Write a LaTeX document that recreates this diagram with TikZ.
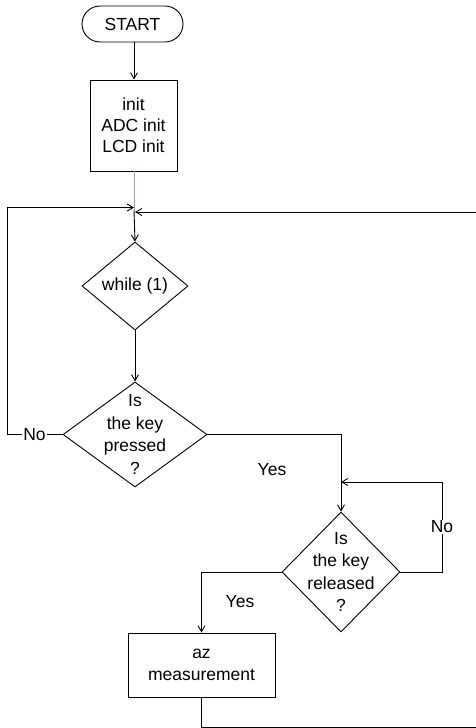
\documentclass[tikz,border=0pt]{standalone}
\usepackage{fontspec}
\setmainfont{Liberation Sans}
\usetikzlibrary{shapes.geometric,shapes.misc,arrows.meta}
\definecolor{linkgray}{RGB}{150,165,185}
\begin{document}
\begin{tikzpicture}[x=1pt,y=-1pt,
  every node/.style={font=\fontsize{17.5}{21}\selectfont},
  ln/.style={draw=black,line width=0.9pt},
  arr/.style={ln,-{Straight Barb[length=6pt,width=7pt]}},
  pill/.style={draw,line width=0.9pt,rounded rectangle,minimum width=101pt,minimum height=36pt,inner sep=0pt},
  procbox/.style={draw,line width=0.9pt,rectangle,align=center,inner sep=0pt},
  dia/.style={draw,line width=0.9pt,diamond,inner sep=0pt},
  dtext/.style={align=center,font=\fontsize{17.5}{22.5}\selectfont},
  lbl/.style={fill=white,inner sep=1pt}]
\useasboundingbox (0,0) rectangle (476,728);
\fill[white] (0,0) rectangle (476,728);
\node[pill] (start) at (132.5,24) {START};
\node[procbox,minimum width=87pt,minimum height=91pt] (init) at (133.5,125.5) {init\\ADC init\\LCD init};
\coordinate (jm) at (134,210);
\coordinate (jl) at (134,207.5);
\coordinate (jr) at (135,212);
\node[dia,minimum width=106pt,minimum height=88pt] (wh) at (135,286) {while (1)};
\node[dia,minimum width=144pt,minimum height=105pt,label={[dtext]center:Is\\the key\\pressed\\?}] (kp) at (135,434.5) {};
\node[dia,minimum width=118pt,minimum height=120pt,label={[dtext]center:Is\\the key\\released\\?}] (kr) at (341,572) {};
\node[procbox,minimum width=147pt,minimum height=64pt,font=\fontsize{17.5}{22}\selectfont] (az) at (201.5,665) {az\\measurement};
\coordinate (jr2) at (341,482);
\coordinate (lx) at (7.5,434.5);
\coordinate (rx) at (480,727);
% connectors
\draw[arr] (start.south -| 134,0) -- (init.north -| 134,0);
\draw[draw=linkgray,line width=0.9pt] (init.south -| 134,0) -- (jm);
\draw[arr] (jm) -- (wh.north);
\draw[arr] (wh.south) -- (kp.north);
\draw[arr] (kp.west) -- (lx) -- (lx |- jl) -- (jl);
\node[lbl] (no1) at (34.5,434.5) {No};
\draw[ln] (kp.east) -- (341,434.5) -- (jr2);
\draw[arr] (jr2) -- (kr.north);
\node (yes1) at (272,470) {Yes};
\draw[arr] (kr.east) -- (442,572) -- (442,482) -- (jr2);
\node[lbl] (no2) at (442,527) {No};
\draw[arr] (kr.west) -- (201.5,572) -- (az.north);
\node (yes2) at (240,602) {Yes};
\draw[arr] (az.south) -- (az.south |- rx) -- (rx) -- (rx |- jr) -- (jr);
\end{tikzpicture}
\end{document}
